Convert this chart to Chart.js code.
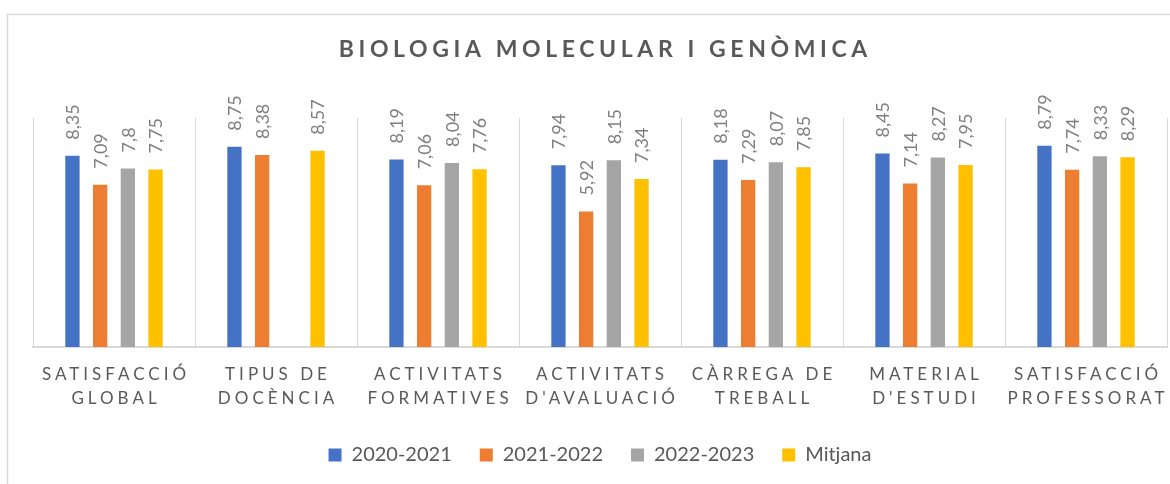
<!DOCTYPE html>
<html>
<head>
<meta charset="utf-8">
<script src="https://cdn.jsdelivr.net/npm/chart.js@4/dist/chart.umd.min.js"></script>
<style>
  body { margin: 0; background: #fff; }
  #wrap { width: 1170px; height: 484px; position: relative; }
</style>
</head>
<body>
<div id="wrap"><canvas id="myChart"></canvas></div>
<script>
// Chart data
const title = 'BIOLOGIA MOLECULAR I GENÒMICA';
const categories = [
    ['SATISFACCIÓ', 'GLOBAL'],
    ['TIPUS DE', 'DOCÈNCIA'],
    ['ACTIVITATS', 'FORMATIVES'],
    ['ACTIVITATS', "D'AVALUACIÓ"],
    ['CÀRREGA DE', 'TREBALL'],
    ['MATERIAL', "D'ESTUDI"],
    ['SATISFACCIÓ', 'PROFESSORAT']
];
const seriesNames = ['2020-2021', '2021-2022', '2022-2023', 'Mitjana'];
const curs2020 = [8.35, 8.75, 8.19, 7.94, 8.18, 8.45, 8.79];
const curs2021 = [7.09, 8.38, 7.06, 5.92, 7.29, 7.14, 7.74];
const curs2022 = [7.8, null, 8.04, 8.15, 8.07, 8.27, 8.33];
const mitjana = [7.75, 8.57, 7.76, 7.34, 7.85, 7.95, 8.29];
const colors = ['#4472C4', '#ED7D31', '#A5A5A5', '#FFC000'];

const gray = '#595959';

// Outer frame + title + category labels + value labels
const decorPlugin = {
    id: 'decor',
    beforeDraw(chart) {
        const ctx = chart.ctx;
        ctx.save();
        ctx.strokeStyle = '#d9d9d9';
        ctx.lineWidth = 1.5;
        ctx.strokeRect(7.5, 14.5, 1200, 500);
        ctx.restore();
    },
    afterDatasetsDraw(chart) {
        const ctx = chart.ctx;
        ctx.save();
        ctx.font = '18px Lato';
        ctx.fillStyle = '#7f7f7f';
        ctx.textAlign = 'left';
        ctx.textBaseline = 'middle';
        chart.data.datasets.forEach((ds, i) => {
            const meta = chart.getDatasetMeta(i);
            meta.data.forEach((bar, j) => {
                const v = ds.data[j];
                if (v == null) return;
                ctx.save();
                ctx.translate(bar.x + 1, bar.y - 16);
                ctx.rotate(-Math.PI / 2);
                ctx.fillText(String(v).replace('.', ','), 0, 0);
                ctx.restore();
            });
        });
        ctx.restore();
    },
    afterDraw(chart) {
        const ctx = chart.ctx;
        ctx.save();
        ctx.fillStyle = gray;
        ctx.textAlign = 'center';
        ctx.textBaseline = 'alphabetic';

        // title
        ctx.font = 'bold 23px Lato';
        ctx.letterSpacing = '4.6px';
        ctx.fillText(title, 603 + 2.3, 57);

        // category labels
        const xs = chart.scales.x;
        ctx.font = '17px Lato';
        ctx.letterSpacing = '4px';
        categories.forEach((lines, i) => {
            const x = xs.getPixelForTick(i) + 2;
            lines.forEach((t, k) => {
                ctx.fillText(t, x, 380 + k * 23.5);
            });
        });
        ctx.restore();
    }
};

const ctx = document.getElementById('myChart').getContext('2d');
const values = [curs2020, curs2021, curs2022, mitjana];

new Chart(ctx, {
    type: 'bar',
    data: {
        labels: categories,
        datasets: seriesNames.map((name, i) => ({
            label: name,
            data: values[i],
            backgroundColor: colors[i],
            borderWidth: 0,
            categoryPercentage: 0.684,
            barPercentage: 0.516
        }))
    },
    options: {
        responsive: true,
        maintainAspectRatio: false,
        animation: false,
        layout: {
            padding: { left: 33, right: 3, top: 118, bottom: 9 }
        },
        plugins: {
            title: { display: false },
            tooltip: { enabled: false },
            legend: {
                position: 'bottom',
                labels: {
                    font: { family: 'Lato', size: 20 },
                    color: gray,
                    boxWidth: 13,
                    boxHeight: 13,
                    padding: 28
                }
            }
        },
        scales: {
            x: {
                grid: { color: '#d9d9d9', lineWidth: 1, drawTicks: false, offset: true },
                border: { color: '#d9d9d9', width: 2 },
                ticks: { display: false },
                afterFit(scale) { scale.height = 70; }
            },
            y: {
                display: false,
                min: 0,
                max: 10
            }
        }
    },
    plugins: [decorPlugin]
});
</script>
</body>
</html>
